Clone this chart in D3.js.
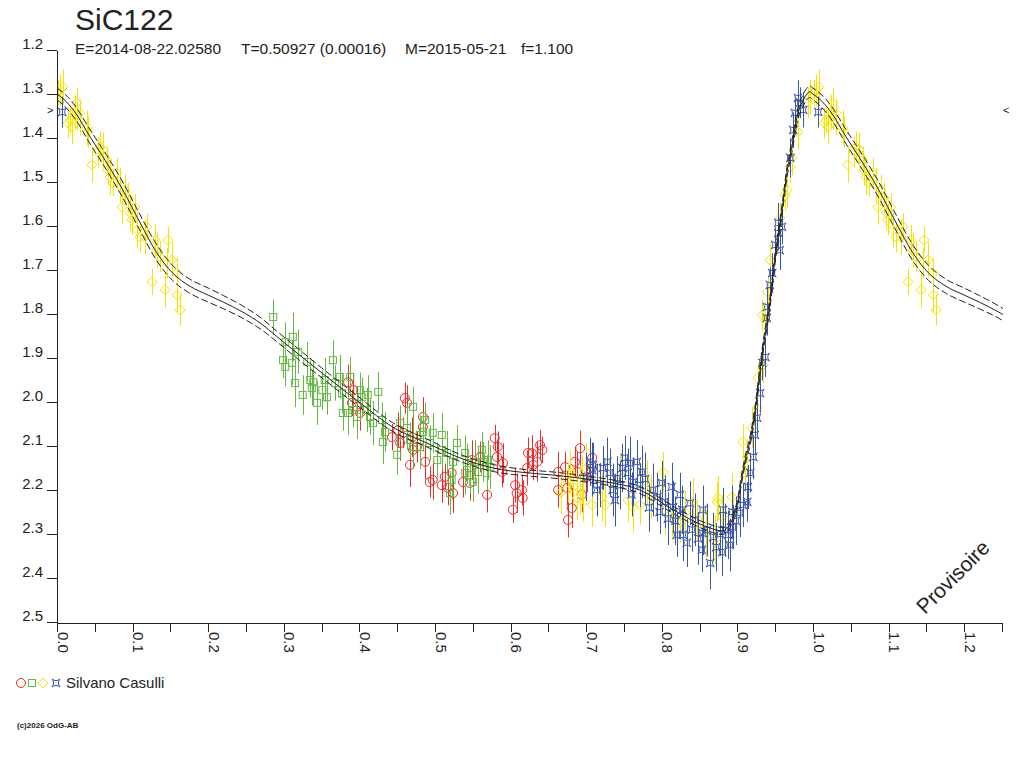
<!DOCTYPE html>
<html>
<head>
<meta charset="utf-8">
<script src="https://cdn.jsdelivr.net/npm/d3@7"></script>
<style>
  body { margin: 0; background: #fff; }
  text { font-family: "Liberation Sans", Arial, sans-serif; fill: #222; }
</style>
</head>
<body>
<svg width="1024" height="768"></svg>
<script>
// --- texts
const title = "SiC122";
const subtitleParts = ["E=2014-08-22.02580", "T=0.50927 (0.00016)", "M=2015-05-21", "f=1.100"];
const observer = "Silvano Casulli";
const copyright = "(c)2026 OdG-AB";
const watermark = "Provisoire";

// --- axes
const yTicks = [1.2, 1.3, 1.4, 1.5, 1.6, 1.7, 1.8, 1.9, 2.0, 2.1, 2.2, 2.3, 2.4, 2.5];
const xMajor = [0, 0.1, 0.2, 0.3, 0.4, 0.5, 0.6, 0.7, 0.8, 0.9, 1.0, 1.1, 1.2];
const xMinor = [0.05, 0.15, 0.25, 0.35, 0.45, 0.55, 0.65, 0.75, 0.85, 0.95, 1.05, 1.15, 1.25];
const xLabels = ["0.0", "0.1", "0.2", "0.3", "0.4", "0.5", "0.6", "0.7", "0.8", "0.9", "1.0", "1.1", "1.2"];
const maxMark = 1.336; // petits repères < > en bord de graphe

// --- courbe modèle (phase 0..1), avec demi-largeur de la bande
const modelPhase = [0.000, 0.009, 0.022, 0.044, 0.066, 0.087, 0.110, 0.132, 0.153, 0.176,
  0.200, 0.220, 0.245, 0.270, 0.290, 0.312, 0.357, 0.401, 0.444, 0.489,
  0.533, 0.577, 0.622, 0.656, 0.700, 0.728, 0.771, 0.815, 0.860, 0.880,
  0.899, 0.905, 0.910, 0.917, 0.921, 0.934, 0.943, 0.950, 0.959, 0.966,
  0.972, 0.979, 0.987, 0.996, 1.000];
const modelMag = [1.300, 1.312, 1.337, 1.398, 1.457, 1.518, 1.593, 1.661, 1.707, 1.737,
  1.757, 1.773, 1.795, 1.822, 1.850, 1.881, 1.943, 2.002, 2.057, 2.093,
  2.127, 2.150, 2.161, 2.166, 2.175, 2.182, 2.200, 2.245, 2.284, 2.293,
  2.240, 2.180, 2.135, 2.086, 2.048, 1.875, 1.775, 1.670, 1.564, 1.473,
  1.420, 1.352, 1.314, 1.295, 1.300];
const modelBand = [0.013, 0.014, 0.015, 0.016, 0.017, 0.018, 0.018, 0.018, 0.017, 0.016,
  0.016, 0.015, 0.014, 0.013, 0.012, 0.012, 0.011, 0.011, 0.010, 0.009,
  0.008, 0.008, 0.007, 0.007, 0.007, 0.007, 0.008, 0.008, 0.008, 0.008,
  0.009, 0.010, 0.010, 0.011, 0.011, 0.012, 0.012, 0.012, 0.012, 0.012,
  0.013, 0.013, 0.013, 0.013, 0.013];

// --- observations (cercles rouges)
const redPhase = [0.385, 0.392, 0.397, 0.390, 0.401, 0.460, 0.463, 0.484, 0.451, 0.458,
  0.443, 0.454, 0.470, 0.476, 0.484, 0.471, 0.467, 0.487, 0.493, 0.497,
  0.509, 0.513, 0.522, 0.524, 0.517, 0.537, 0.546, 0.549, 0.560, 0.569,
  0.579, 0.583, 0.582, 0.590, 0.589, 0.603, 0.606, 0.608, 0.615, 0.616,
  0.623, 0.628, 0.635, 0.642, 0.639, 0.622, 0.630, 0.663, 0.663, 0.672,
  0.675, 0.681, 0.676, 0.685, 0.692, 0.688, 0.701, 0.694, 0.708, 0.709];
const redMag = [1.955, 1.973, 2.011, 2.002, 2.025, 1.991, 2.002, 2.034, 2.064, 2.070,
  2.080, 2.093, 2.080, 2.102, 2.057, 2.109, 2.143, 2.136, 2.182, 2.177,
  2.189, 2.170, 2.161, 2.207, 2.195, 2.182, 2.184, 2.132, 2.125, 2.211,
  2.082, 2.102, 2.125, 2.139, 2.159, 2.245, 2.189, 2.207, 2.200, 2.218,
  2.116, 2.116, 2.136, 2.109, 2.098, 2.150, 2.143, 2.159, 2.200, 2.148,
  2.195, 2.241, 2.268, 2.136, 2.105, 2.159, 2.170, 2.211, 2.127, 2.148];
const redErr = [0.040, 0.035, 0.045, 0.030, 0.040, 0.035, 0.040, 0.045, 0.040, 0.035,
  0.030, 0.040, 0.045, 0.035, 0.040, 0.030, 0.050, 0.040, 0.035, 0.045,
  0.040, 0.030, 0.035, 0.045, 0.040, 0.035, 0.040, 0.045, 0.035, 0.040,
  0.030, 0.035, 0.040, 0.045, 0.035, 0.030, 0.040, 0.045, 0.035, 0.040,
  0.035, 0.040, 0.045, 0.030, 0.035, 0.040, 0.035, 0.045, 0.040, 0.035,
  0.040, 0.045, 0.040, 0.035, 0.040, 0.045, 0.035, 0.040, 0.035, 0.040];

// --- carrés verts
const greenPhase = [0.286, 0.312, 0.302, 0.319, 0.299, 0.302, 0.311, 0.331, 0.335, 0.339,
  0.315, 0.325, 0.337, 0.344, 0.351, 0.357, 0.354, 0.365, 0.368, 0.374,
  0.377, 0.378, 0.385, 0.388, 0.401, 0.403, 0.397, 0.392, 0.411, 0.410,
  0.414, 0.425, 0.418, 0.430, 0.434, 0.431, 0.450, 0.454, 0.463, 0.471,
  0.467, 0.471, 0.480, 0.487, 0.484, 0.480, 0.493, 0.497, 0.509, 0.509,
  0.503, 0.516, 0.524, 0.529, 0.522, 0.520, 0.540, 0.542, 0.540, 0.546,
  0.550, 0.553, 0.562, 0.563, 0.557, 0.569, 0.570, 0.573];
const greenMag = [1.807, 1.852, 1.864, 1.886, 1.905, 1.920, 1.911, 1.909, 1.950, 1.955,
  1.957, 1.984, 1.968, 2.002, 1.973, 1.989, 1.950, 1.905, 1.957, 1.943,
  1.980, 2.025, 2.025, 1.943, 1.973, 1.989, 2.034, 2.018, 1.984, 2.018,
  2.034, 1.977, 2.048, 2.041, 2.068, 2.091, 2.120, 2.048, 2.059, 2.011,
  2.086, 2.102, 2.075, 2.041, 2.068, 2.102, 2.093, 2.070, 2.075, 2.109,
  2.132, 2.116, 2.136, 2.093, 2.177, 2.207, 2.116, 2.139, 2.161, 2.166,
  2.182, 2.136, 2.109, 2.136, 2.159, 2.161, 2.132, 2.148];
const greenErr = [0.040, 0.055, 0.045, 0.050, 0.040, 0.045, 0.050, 0.045, 0.040, 0.050,
  0.055, 0.045, 0.040, 0.050, 0.045, 0.040, 0.050, 0.045, 0.040, 0.050,
  0.045, 0.040, 0.050, 0.045, 0.040, 0.045, 0.050, 0.040, 0.045, 0.050,
  0.040, 0.045, 0.050, 0.040, 0.045, 0.050, 0.045, 0.040, 0.050, 0.045,
  0.040, 0.050, 0.045, 0.040, 0.045, 0.050, 0.040, 0.045, 0.050, 0.045,
  0.040, 0.050, 0.045, 0.040, 0.045, 0.050, 0.040, 0.045, 0.050, 0.040,
  0.045, 0.050, 0.040, 0.045, 0.050, 0.040, 0.045, 0.050];

// --- losanges jaunes
const yellowPhase = [0.004, 0.008, 0.001, 0.026, 0.024, 0.030, 0.015, 0.020, 0.017, 0.030,
  0.040, 0.041, 0.026, 0.057, 0.061, 0.054, 0.046, 0.066, 0.067, 0.070,
  0.079, 0.074, 0.083, 0.090, 0.086, 0.094, 0.103, 0.097, 0.099, 0.106,
  0.110, 0.119, 0.116, 0.130, 0.132, 0.147, 0.136, 0.152, 0.146, 0.126,
  0.143, 0.159, 0.159, 0.163,
  0.679, 0.676, 0.692, 0.688, 0.696, 0.708, 0.694, 0.683, 0.725, 0.721,
  0.745, 0.755, 0.762, 0.771, 0.780, 0.802, 0.804, 0.813, 0.824, 0.831,
  0.841, 0.847, 0.853, 0.870, 0.873, 0.880, 0.893, 0.894, 0.874, 0.907,
  0.919, 0.913, 0.910, 0.926, 0.927, 0.934, 0.933, 0.937, 0.940, 0.943,
  0.956, 0.966, 0.963, 0.972, 0.970, 0.980, 0.993, 0.996,
  0.667, 0.700, 0.735, 0.786, 0.858];
const yellowMag = [1.291, 1.284, 1.298, 1.320, 1.341, 1.343, 1.366, 1.375, 1.359, 1.359,
  1.377, 1.386, 1.352, 1.420, 1.427, 1.432, 1.461, 1.450, 1.473, 1.489,
  1.480, 1.502, 1.507, 1.518, 1.557, 1.536, 1.557, 1.570, 1.586, 1.609,
  1.625, 1.602, 1.625, 1.632, 1.655, 1.632, 1.670, 1.677, 1.684, 1.727,
  1.745, 1.707, 1.757, 1.791,
  2.161, 2.182, 2.200, 2.218, 2.227, 2.234, 2.177, 2.193, 2.234, 2.216,
  2.166, 2.223, 2.239, 2.234, 2.182, 2.159, 2.245, 2.264, 2.275, 2.252,
  2.227, 2.268, 2.291, 2.314, 2.227, 2.261, 2.216, 2.250, 2.218, 2.091,
  2.059, 2.125, 2.161, 2.014, 1.945, 1.916, 1.802, 1.814, 1.750, 1.677,
  1.582, 1.518, 1.530, 1.445, 1.466, 1.386, 1.320, 1.307,
  2.205, 2.150, 2.190, 2.215, 2.300];
const yellowErr = [0.035, 0.040, 0.030, 0.035, 0.040, 0.030, 0.035, 0.040, 0.030, 0.035,
  0.040, 0.035, 0.030, 0.035, 0.040, 0.035, 0.040, 0.030, 0.035, 0.040,
  0.035, 0.030, 0.040, 0.035, 0.040, 0.035, 0.030, 0.040, 0.035, 0.040,
  0.035, 0.030, 0.040, 0.035, 0.040, 0.030, 0.035, 0.040, 0.035, 0.030,
  0.040, 0.035, 0.040, 0.035,
  0.050, 0.045, 0.055, 0.050, 0.045, 0.050, 0.055, 0.045, 0.050, 0.055,
  0.045, 0.050, 0.055, 0.045, 0.050, 0.045, 0.055, 0.050, 0.045, 0.050,
  0.055, 0.045, 0.050, 0.055, 0.045, 0.050, 0.055, 0.045, 0.050, 0.040,
  0.045, 0.040, 0.045, 0.040, 0.035, 0.040, 0.035, 0.040, 0.035, 0.040,
  0.035, 0.040, 0.035, 0.040, 0.035, 0.040, 0.035, 0.040,
  0.050, 0.055, 0.045, 0.050, 0.055];

// --- étoiles bleues
const bluePhase = [0.705, 0.709, 0.708, 0.728, 0.718, 0.714, 0.731, 0.741, 0.738, 0.745,
  0.751, 0.758, 0.755, 0.767, 0.774, 0.762, 0.771, 0.788, 0.794, 0.800,
  0.804, 0.813, 0.824, 0.815, 0.827, 0.820, 0.828, 0.833, 0.837, 0.844,
  0.854, 0.854, 0.860, 0.868, 0.853, 0.864, 0.880, 0.881, 0.884, 0.888,
  0.894, 0.893, 0.903, 0.907, 0.913, 0.914, 0.917, 0.921, 0.923, 0.926,
  0.930, 0.933, 0.937, 0.939, 0.939, 0.943, 0.946, 0.950, 0.956, 0.954,
  0.954, 0.959, 0.970, 0.974, 0.976, 0.980, 0.983, 0.987, 0.007,
  0.700, 0.722, 0.735, 0.748, 0.760, 0.778, 0.783, 0.797, 0.808, 0.818,
  0.840, 0.848, 0.872, 0.877, 0.890, 0.898];
const blueMag = [2.136, 2.143, 2.155, 2.136, 2.189, 2.200, 2.161, 2.173, 2.223, 2.189,
  2.127, 2.139, 2.161, 2.136, 2.159, 2.182, 2.189, 2.200, 2.216, 2.184,
  2.227, 2.193, 2.211, 2.239, 2.245, 2.302, 2.302, 2.320, 2.230, 2.268,
  2.245, 2.298, 2.291, 2.307, 2.336, 2.366, 2.341, 2.245, 2.291, 2.302,
  2.284, 2.250, 2.252, 2.234, 2.227, 2.193, 2.161, 2.125, 2.075, 2.036,
  1.980, 1.911, 1.898, 1.809, 1.784, 1.734, 1.707, 1.643, 1.655, 1.616,
  1.593, 1.602, 1.445, 1.382, 1.343, 1.309, 1.320, 1.336, 1.341,
  2.170, 2.150, 2.200, 2.150, 2.210, 2.175, 2.240, 2.250, 2.265, 2.270,
  2.290, 2.310, 2.330, 2.300, 2.325, 2.270];
const blueErr = [0.055, 0.050, 0.060, 0.055, 0.050, 0.060, 0.055, 0.050, 0.060, 0.055,
  0.050, 0.060, 0.055, 0.050, 0.060, 0.055, 0.050, 0.060, 0.055, 0.050,
  0.060, 0.055, 0.050, 0.060, 0.055, 0.050, 0.060, 0.055, 0.050, 0.060,
  0.055, 0.050, 0.060, 0.055, 0.050, 0.060, 0.055, 0.050, 0.060, 0.055,
  0.050, 0.060, 0.055, 0.050, 0.045, 0.050, 0.045, 0.050, 0.045, 0.040,
  0.045, 0.040, 0.045, 0.040, 0.045, 0.040, 0.045, 0.040, 0.045, 0.040,
  0.045, 0.040, 0.045, 0.040, 0.035, 0.040, 0.035, 0.040, 0.035,
  0.055, 0.050, 0.060, 0.055, 0.050, 0.060, 0.055, 0.050, 0.060, 0.055,
  0.050, 0.060, 0.055, 0.050, 0.060, 0.055];

// --- dessin
const svg = d3.select("svg");
const x = d3.scaleLinear().domain([0, 1.25]).range([57, 1002]);
const y = d3.scaleLinear().domain([1.2, 2.5]).range([50, 622]);
const font = '"Liberation Sans", Arial, sans-serif';

svg.append("defs").append("clipPath").attr("id", "plot")
  .append("rect").attr("x", 57).attr("y", 0).attr("width", 946).attr("height", 640);

// phase repliée : tout ce qui est avant 0.25 est répété après 1.0
function fold(ph, mg, er) {
  const pts = [];
  ph.forEach((p, i) => {
    const d = { p, m: mg[i], e: er[i] ?? 0.04 };
    pts.push(d);
    if (p < 0.25) pts.push({ ...d, p: p + 1 });
  });
  return pts;
}

const symbols = {
  circle: g => g.append("circle").attr("r", 4.5),
  square: g => g.append("rect").attr("x", -3.5).attr("y", -3.5).attr("width", 7).attr("height", 7),
  diamond: g => g.append("path").attr("d", "M0,-5L5,0L0,5L-5,0Z"),
  star: g => g.append("path").attr("d", "M-4,-4Q0,-0.8 4,-4Q0.8,0 4,4Q0,0.8 -4,4Q-0.8,0 -4,-4Z")
};

const series = [
  { ph: redPhase, mg: redMag, er: redErr, color: "#ee2a2a", sym: "circle" },
  { ph: greenPhase, mg: greenMag, er: greenErr, color: "#66b845", sym: "square" },
  { ph: yellowPhase, mg: yellowMag, er: yellowErr, color: "#f5e400", sym: "diamond" },
  { ph: bluePhase, mg: blueMag, er: blueErr, color: "#3a56a8", sym: "star" }
];

const plot = svg.append("g").attr("clip-path", "url(#plot)");

series.forEach(s => {
  const pts = fold(s.ph, s.mg, s.er);
  const g = plot.append("g");
  g.selectAll("line")
    .data(pts)
    .join("line")
    .attr("x1", d => Math.round(x(d.p)) + 0.5)
    .attr("x2", d => Math.round(x(d.p)) + 0.5)
    .attr("y1", d => y(d.m - d.e))
    .attr("y2", d => y(d.m + d.e))
    .attr("stroke", s.color)
    .attr("stroke-width", 1);
  g.selectAll("g.mk")
    .data(pts)
    .join("g")
    .attr("class", "mk")
    .attr("transform", d => `translate(${x(d.p)},${y(d.m)})`)
    .each(function () { symbols[s.sym](d3.select(this)); })
    .selectAll("*")
    .attr("fill", "none")
    .attr("stroke", s.color)
    .attr("stroke-width", 1);
});

// courbe modèle et bande
const model = modelPhase.map((p, i) => ({ p, m: modelMag[i], b: modelBand[i] }));
model.filter(d => d.p > 0 && d.p <= 0.3).forEach(d => model.push({ ...d, p: d.p + 1 }));
model.sort((a, b) => a.p - b.p);

const line = k => d3.line()
  .x(d => x(d.p))
  .y(d => y(d.m + k * d.b))
  .curve(d3.curveMonotoneX);

plot.append("path").datum(model).attr("d", line(-1))
  .attr("fill", "none").attr("stroke", "#222").attr("stroke-width", 1).attr("stroke-dasharray", "7,3");
plot.append("path").datum(model).attr("d", line(0))
  .attr("fill", "none").attr("stroke", "#222").attr("stroke-width", 1);
plot.append("path").datum(model).attr("d", line(1))
  .attr("fill", "none").attr("stroke", "#222").attr("stroke-width", 1).attr("stroke-dasharray", "7,3");

// axes
const yAxis = svg.append("g")
  .attr("transform", "translate(57,0)")
  .call(d3.axisLeft(y).tickValues(yTicks).tickSize(10).tickSizeOuter(0).tickPadding(4)
    .tickFormat(d3.format(".1f")));
yAxis.attr("font-size", 15).attr("font-family", font).attr("color", "#222");
yAxis.selectAll("text").attr("dy", 0).attr("y", -1.5);

const xAxis = svg.append("g")
  .attr("transform", "translate(0,622.5)")
  .call(d3.axisBottom(x).tickValues(xMajor.concat(xMinor)).tickSize(9).tickSizeOuter(0).tickFormat(""));
xAxis.attr("color", "#222");
svg.selectAll(".domain, .tick line").attr("stroke-width", 1).attr("shape-rendering", "crispEdges");

svg.append("g").selectAll("text")
  .data(xMajor)
  .join("text")
  .attr("transform", d => `translate(${x(d) + 0.5},632) rotate(90)`)
  .attr("font-size", 15)
  .text((d, i) => xLabels[i]);

// repères magnitude max
svg.append("text").attr("x", 47).attr("y", y(maxMark) + 4).attr("font-size", 11).text(">");
svg.append("text").attr("x", 1003).attr("y", y(maxMark) + 4).attr("font-size", 11).text("<");

// titres
svg.append("text").attr("x", 75).attr("y", 30).attr("font-size", 30).text(title);
const subX = [75, 241, 405, 521];
svg.append("g").selectAll("text")
  .data(subtitleParts)
  .join("text")
  .attr("x", (d, i) => subX[i])
  .attr("y", 54)
  .attr("font-size", 15.5)
  .text(d => d);

// légende
const leg = svg.append("g").attr("transform", "translate(0,683)");
const legX = [21, 32, 43, 56];
series.forEach((s, i) => {
  const g = leg.append("g").attr("transform", `translate(${legX[i]},0)`);
  symbols[s.sym](g);
  g.selectAll("*").attr("fill", "none").attr("stroke", s.color).attr("stroke-width", 1);
});
leg.append("text").attr("x", 66).attr("y", 5).attr("font-size", 15).text(observer);

svg.append("text").attr("x", 17).attr("y", 728).attr("font-size", 8).attr("font-weight", "bold").text(copyright);

svg.append("text")
  .attr("transform", "translate(958,582) rotate(-45)")
  .attr("text-anchor", "middle")
  .attr("font-size", 21)
  .attr("fill", "#333")
  .text(watermark);
</script>
</body>
</html>
